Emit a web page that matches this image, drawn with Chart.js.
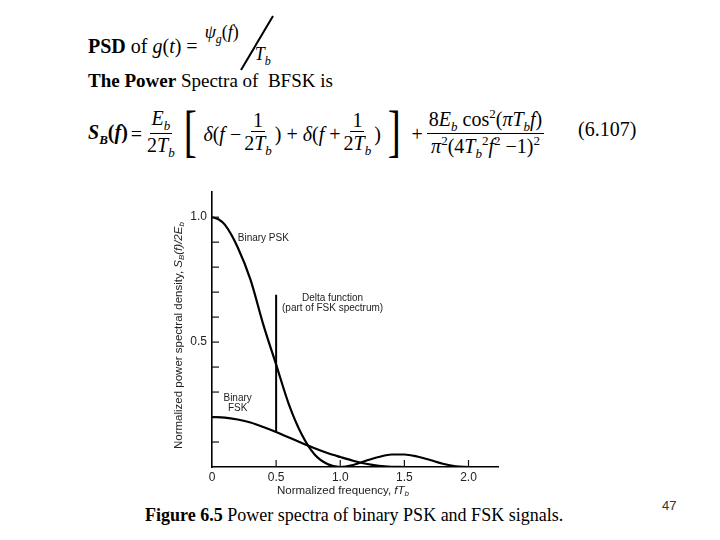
<!DOCTYPE html>
<html>
<head>
<meta charset="utf-8">
<script src="https://cdn.jsdelivr.net/npm/chart.js@4.4.0/dist/chart.umd.min.js"></script>
<style>
  body { margin: 0; width: 720px; height: 540px; background: #fff; position: relative; overflow: hidden; font-family: "Liberation Serif", serif; color: #000; }
  .abs { position: absolute; white-space: nowrap; }
  .frac { display: inline-flex; flex-direction: column; align-items: center; vertical-align: middle; }
  .frac .num { border-bottom: 1.6px solid #000; padding: 0 2px; line-height: 1.05; }
  .frac .den { line-height: 1.1; padding: 0 2px; }
  i { font-style: italic; }
  sub, sup { font-size: 65%; }
  .eq { display: flex; align-items: center; font-size: 20px; }
</style>
</head>
<body>
<div class="abs" style="left:88px;top:26px;font-size:20px;">
  <b>PSD</b> of <i>g</i>(<i>t</i>) =
  <span style="position:relative;display:inline-block;width:80px;height:44px;vertical-align:middle;">
    <span style="position:absolute;left:2px;top:-4px;font-size:18px;"><i>ψ</i><sub style="font-size:12px"><i>g</i></sub>(<i>f</i>)</span>
    <span style="position:absolute;left:52px;top:18px;font-size:18px;"><i>T</i><sub style="font-size:12px"><i>b</i></sub></span>
    <svg style="position:absolute;left:34px;top:-12px" width="40" height="60"><line x1="36" y1="2" x2="4" y2="56" stroke="#000" stroke-width="2"/></svg>
  </span>
</div>
<div class="abs" style="left:88px;top:70px;font-size:19px;"><b>The Power</b> Spectra of&nbsp; BFSK is</div>

<div class="abs eq" style="left:88px;top:104px;height:60px;">
  <span><b><i>S</i><sub><i>B</i></sub>(<i>f</i>)</b></span>
  <span style="margin:0 3px">=</span>
  <span class="frac"><span class="num"><i>E</i><sub><i>b</i></sub></span><span class="den">2<i>T</i><sub><i>b</i></sub></span></span>
  <span style="font-size:56px;font-weight:100;line-height:1;margin:0 4px 6px 4px;transform:scaleX(0.7)">[</span>
  <span><i>δ</i>(<i>f</i> −</span>
  <span class="frac" style="margin:0 1px"><span class="num">1</span><span class="den">2<i>T</i><sub><i>b</i></sub></span></span>
  <span>) + <i>δ</i>(<i>f</i> +</span>
  <span class="frac" style="margin:0 1px"><span class="num">1</span><span class="den">2<i>T</i><sub><i>b</i></sub></span></span>
  <span>)</span>
  <span style="font-size:56px;font-weight:100;line-height:1;margin:0 4px 6px 4px;transform:scaleX(0.7)">]</span>
  <span style="margin:0 4px">+</span>
  <span class="frac"><span class="num">8<i>E</i><sub><i>b</i></sub> cos<sup>2</sup>(<i>πT</i><sub><i>b</i></sub><i>f</i>)</span><span class="den"><i>π</i><sup>2</sup>(4<i>T</i><sub><i>b</i></sub><sup>2</sup><i>f</i><sup>2</sup> −1)<sup>2</sup></span></span>
</div>
<div class="abs" style="left:578px;top:118px;font-size:20px;">(6.107)</div>

<div class="abs" style="left:160px;top:180px;width:350px;height:320px;">
  <canvas id="psdChart" width="350" height="320"></canvas>
</div>

<div class="abs" style="left:145px;top:505px;font-size:18px;"><b>Figure 6.5</b> Power spectra of binary PSK and FSK signals.</div>
<div class="abs" style="left:662px;top:498px;font-size:13px;font-family:'Liberation Sans',sans-serif;color:#333;">47</div>

<script>
// normalized frequency f*Tb
const pskFreq = [0, 0.05, 0.1, 0.2, 0.3, 0.4, 0.5, 0.6, 0.7, 0.8, 0.9, 1.0, 1.1, 1.2, 1.3, 1.4, 1.5, 1.6, 1.7, 1.8, 1.9, 2.0];
const pskValues = [1.0, 0.992, 0.97, 0.88, 0.75, 0.57, 0.41, 0.25, 0.13, 0.05, 0.012, 0, 0.008, 0.025, 0.04, 0.05, 0.05, 0.042, 0.028, 0.013, 0.003, 0];
const fskFreq = [0, 0.1, 0.2, 0.3, 0.4, 0.5, 0.6, 0.7, 0.8, 0.9, 1.0, 1.1, 1.2, 1.3, 1.4, 1.5];
const fskValues = [0.2, 0.198, 0.19, 0.178, 0.16, 0.14, 0.118, 0.096, 0.075, 0.056, 0.04, 0.025, 0.013, 0.005, 0.001, 0];
const deltaFreq = [0.5, 0.5];
const deltaValues = [0.14, 0.69];
const xTicks = [0, 0.5, 1.0, 1.5, 2.0];
const yTicks = [0.5, 1.0];
const yMinorTicks = [0.1, 0.2, 0.3, 0.4, 0.5, 0.6, 0.7, 0.8, 0.9, 1.0];
const xMinorTicks = [0.5, 1.0, 1.5, 2.0];

const toPoints = (xs, ys) => xs.map((x, i) => ({ x: x, y: ys[i] }));

// draw text made of several pieces (italic, subscript)
function richText(ctx, parts, x, y) {
  let total = 0;
  parts.forEach(p => { ctx.font = p.font; total += ctx.measureText(p.t).width; });
  let cx = x - total / 2;
  parts.forEach(p => {
    ctx.font = p.font;
    ctx.fillText(p.t, cx, y + (p.dy || 0));
    cx += ctx.measureText(p.t).width;
  });
}

const extras = {
  id: 'extras',
  afterDraw(chart) {
    const ctx = chart.ctx;
    const xs = chart.scales.x, ys = chart.scales.y;
    ctx.save();
    ctx.strokeStyle = '#111';
    ctx.lineWidth = 1.2;
    // inward tick marks
    yMinorTicks.forEach(v => {
      const py = ys.getPixelForValue(v);
      ctx.beginPath(); ctx.moveTo(xs.left, py); ctx.lineTo(xs.left + 7, py); ctx.stroke();
    });
    xMinorTicks.forEach(v => {
      const px = xs.getPixelForValue(v);
      ctx.beginPath(); ctx.moveTo(px, ys.bottom); ctx.lineTo(px, ys.bottom - 7); ctx.stroke();
    });

    ctx.fillStyle = '#222';
    ctx.textAlign = 'left';
    ctx.textBaseline = 'middle';
    const f = '10px "Liberation Sans", Arial, sans-serif';
    const ft = '11.5px "Liberation Sans", Arial, sans-serif';
    const fi = 'italic 11.5px "Liberation Sans", Arial, sans-serif';
    const fs = 'italic 8px "Liberation Sans", Arial, sans-serif';
    // annotations
    richText(ctx, [{ t: 'Binary PSK', font: f }], xs.getPixelForValue(0.4), ys.getPixelForValue(0.915));
    richText(ctx, [{ t: 'Delta function', font: f }], xs.getPixelForValue(0.94), ys.getPixelForValue(0.675));
    richText(ctx, [{ t: '(part of FSK spectrum)', font: f }], xs.getPixelForValue(0.94), ys.getPixelForValue(0.635));
    richText(ctx, [{ t: 'Binary', font: f }], xs.getPixelForValue(0.2), ys.getPixelForValue(0.275));
    richText(ctx, [{ t: 'FSK', font: f }], xs.getPixelForValue(0.2), ys.getPixelForValue(0.235));

    // x axis title
    richText(ctx, [
      { t: 'Normalized frequency, ', font: ft },
      { t: 'fT', font: fi },
      { t: 'b', font: fs, dy: 3 }
    ], (xs.left + xs.right) / 2 - 12, 311);

    // y axis title
    ctx.translate(19, (ys.top + ys.bottom) / 2 + 6);
    ctx.rotate(-Math.PI / 2);
    richText(ctx, [
      { t: 'Normalized power spectral density, ', font: ft },
      { t: 'S', font: fi },
      { t: 'B', font: fs, dy: 3 },
      { t: '(f)/2', font: fi },
      { t: 'E', font: fi },
      { t: 'b', font: fs, dy: 3 }
    ], 0, 0);
    ctx.restore();
  }
};

const line = { borderColor: '#000', borderWidth: 2.2, pointRadius: 0, fill: false, cubicInterpolationMode: 'monotone' };

new Chart(document.getElementById('psdChart').getContext('2d'), {
  type: 'line',
  data: {
    datasets: [
      Object.assign({ label: 'Binary PSK', data: toPoints(pskFreq, pskValues) }, line),
      Object.assign({ label: 'Binary FSK', data: toPoints(fskFreq, fskValues) }, line),
      Object.assign({ label: 'Delta function', data: toPoints(deltaFreq, deltaValues) }, line, { borderWidth: 2, cubicInterpolationMode: 'default', tension: 0 })
    ]
  },
  options: {
    responsive: false,
    animation: false,
    layout: { padding: { top: 8, right: 12, left: 0, bottom: 0 } },
    plugins: { legend: { display: false }, tooltip: { enabled: false } },
    scales: {
      x: {
        type: 'linear', min: 0, max: 2.23,
        afterBuildTicks: s => { s.ticks = xTicks.map(v => ({ value: v })); },
        afterFit: s => { s.height = 33; },
        grid: { display: false, tickLength: 0 },
        border: { display: true, color: '#000', width: 1.6 },
        ticks: {
          color: '#222', padding: 3, maxRotation: 0,
          font: { family: '"Liberation Sans", Arial, sans-serif', size: 12 },
          callback: v => (v === 0 ? '0' : v.toFixed(1))
        }
      },
      y: {
        min: 0, max: 1.1,
        afterBuildTicks: s => { s.ticks = yTicks.map(v => ({ value: v })); },
        afterFit: s => { s.width = 52; },
        grid: { display: false, tickLength: 0 },
        border: { display: true, color: '#000', width: 1.6 },
        ticks: {
          color: '#222', padding: 5,
          font: { family: '"Liberation Sans", Arial, sans-serif', size: 12 },
          callback: v => v.toFixed(1)
        }
      }
    }
  },
  plugins: [extras]
});
</script>
</body>
</html>
